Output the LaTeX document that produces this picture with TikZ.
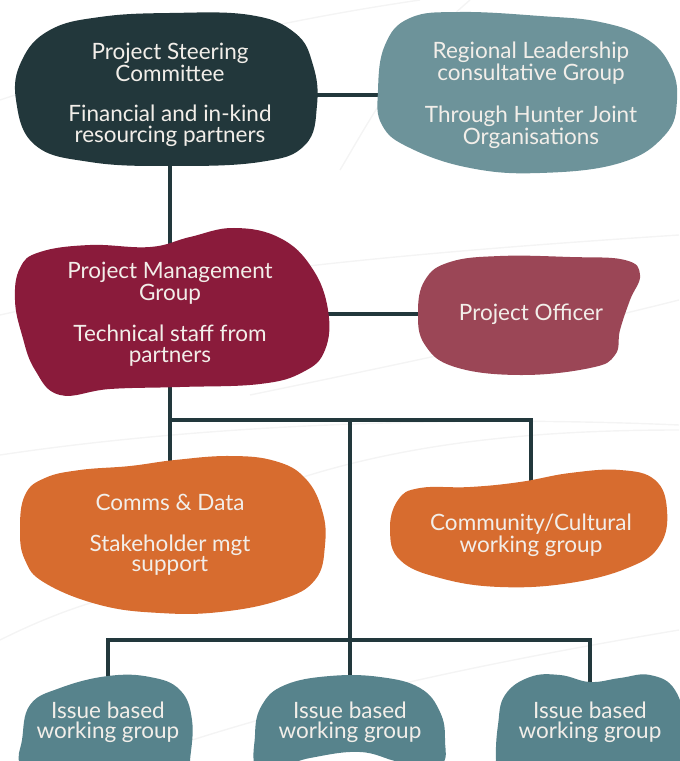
\documentclass[tikz,border=0pt]{standalone}
\usepackage{fontspec}
\setmainfont{Lato}
\usetikzlibrary{backgrounds}

\definecolor{steer}{HTML}{22373B}
\definecolor{region}{HTML}{6D939A}
\definecolor{manage}{HTML}{8A1B3B}
\definecolor{officer}{HTML}{9B4656}
\definecolor{orange}{HTML}{D76C2F}
\definecolor{issue}{HTML}{57838C}
\definecolor{paper}{HTML}{F2EEE9}
\definecolor{linecol}{HTML}{22383C}

\begin{document}
\begin{tikzpicture}[x=0.025cm, y=-0.025cm,
  blobtext/.style={align=center, text=paper, inner sep=0pt,
    font=\fontsize{16}{14.5}\selectfont},
  link/.style={draw=linecol, line width=2.8pt},
  faint/.style={draw=gray!9, line width=1pt},
  blob/.style={smooth cycle, tension=0.7}]

  \useasboundingbox (0,0) rectangle (679,761);

  % faint sweeps behind everything
  \begin{pgfonlayer}{background}
    \draw[faint] (0,100) .. controls (120,60) and (250,25) .. (420,0);
    \draw[faint] (340,170) .. controls (370,120) and (400,60) .. (470,0);
    \draw[faint] (0,315) .. controls (200,270) and (450,250) .. (679,235);
    \draw[faint] (250,395) .. controls (420,360) and (560,330) .. (679,300);
    \draw[faint] (0,455) .. controls (200,425) and (450,415) .. (679,425);
    \draw[faint] (300,478) .. controls (420,440) and (550,430) .. (679,430);
    \draw[faint] (0,640) .. controls (60,610) and (120,590) .. (180,585);
    \draw[faint] (130,761) .. controls (300,700) and (500,660) .. (679,630);
  \end{pgfonlayer}

  % Project Steering Committee
  \fill[steer] plot[blob] coordinates {(16,100) (22,60) (50,30) (100,17) (170,13)
    (250,15) (295,33) (313,65) (317,105) (305,145) (260,162) (170,166) (90,162) (35,145)};
  \node[blobtext] (psc) at (170,95) {Project Steering\\Committee\\[14pt]Financial and in-kind\\resourcing partners};

  % Regional Leadership
  \fill[region] plot[blob] coordinates {(378,90) (385,45) (410,18) (460,12) (540,16)
    (600,22) (645,38) (670,65) (677,100) (665,135) (620,163) (540,173) (470,168) (410,148) (382,125)};
  \node[blobtext] (rlg) at (531,95) {Regional Leadership\\consultative Group\\[14pt]Through Hunter Joint\\Organisations};

  % Project Management Group
  \fill[manage] plot[blob] coordinates {(15,300) (20,268) (40,252) (90,245) (150,247)
    (190,237) (234,228) (280,238) (312,268) (328,310) (325,350) (303,372) (260,384)
    (180,387) (110,389) (60,395) (35,370) (22,335)};
  \node[blobtext] (pmg) at (170,314) {Project Management\\Group\\[14pt]Technical staff from\\partners};

  % Project Officer
  \fill[officer] plot[blob] coordinates {(418,313) (425,280) (450,262) (500,256) (570,257)
    (625,260) (640,275) (630,300) (620,330) (615,355) (590,368) (520,375) (455,367) (425,345)};
  \node[blobtext] (po) at (531,314) {Project Officer};

  % Comms & Data
  \fill[orange] plot[blob] coordinates {(20,530) (25,495) (45,478) (80,470) (130,466)
    (175,460) (230,456) (275,461) (305,478) (322,510) (325,545) (315,580) (280,600)
    (220,612) (160,613) (100,605) (45,583) (25,560)};
  \node[blobtext] (comms) at (170,535) {Comms \& Data\\[14pt]Stakeholder mgt\\support};

  % Community/Cultural
  \fill[orange] plot[blob] coordinates {(390,530) (398,500) (420,488) (470,487) (520,482)
    (570,473) (620,470) (655,480) (667,510) (660,545) (630,567) (570,583) (500,587)
    (440,578) (400,560)};
  \node[blobtext] (cult) at (531,535) {Community/Cultural\\working group};

  % Issue based groups
  \fill[issue] plot[blob] coordinates {(22,740) (30,705) (60,688) (108,676) (150,677)
    (180,690) (192,720) (190,760) (185,790) (40,790) (20,765)};
  \node[blobtext] (issue1) at (108,722) {Issue based\\working group};

  \fill[issue] plot[blob] coordinates {(255,735) (262,705) (285,685) (330,676) (380,677)
    (420,688) (440,712) (445,740) (440,765) (400,762) (360,752) (310,758) (260,770)};
  \node[blobtext] (issue2) at (350,722) {Issue based\\working group};

  \fill[issue] plot[blob] coordinates {(498,725) (505,695) (530,677) (560,675) (590,682)
    (620,678) (650,675) (675,690) (685,730) (685,790) (500,790) (496,760)};
  \node[blobtext] (issue3) at (590,722) {Issue based\\working group};

  % connectors
  \coordinate (split) at (350,420);
  \coordinate (join) at (350,640);
  \begin{pgfonlayer}{background}
    \draw[link] (psc.east) -- (rlg.west);
    \draw[link] (psc.south) -- (pmg.north);
    \draw[link] (pmg.east) -- (po.west);
    \draw[link] (pmg.south) -- (comms.north);
    \draw[link] (pmg.south |- split) -| (cult.north);
    \draw[link] (split) -- (join);
    \draw[link] (issue1.north) |- (join) -| (issue3.north);
    \draw[link] (join) -- (issue2.north);
  \end{pgfonlayer}

\end{tikzpicture}
\end{document}
